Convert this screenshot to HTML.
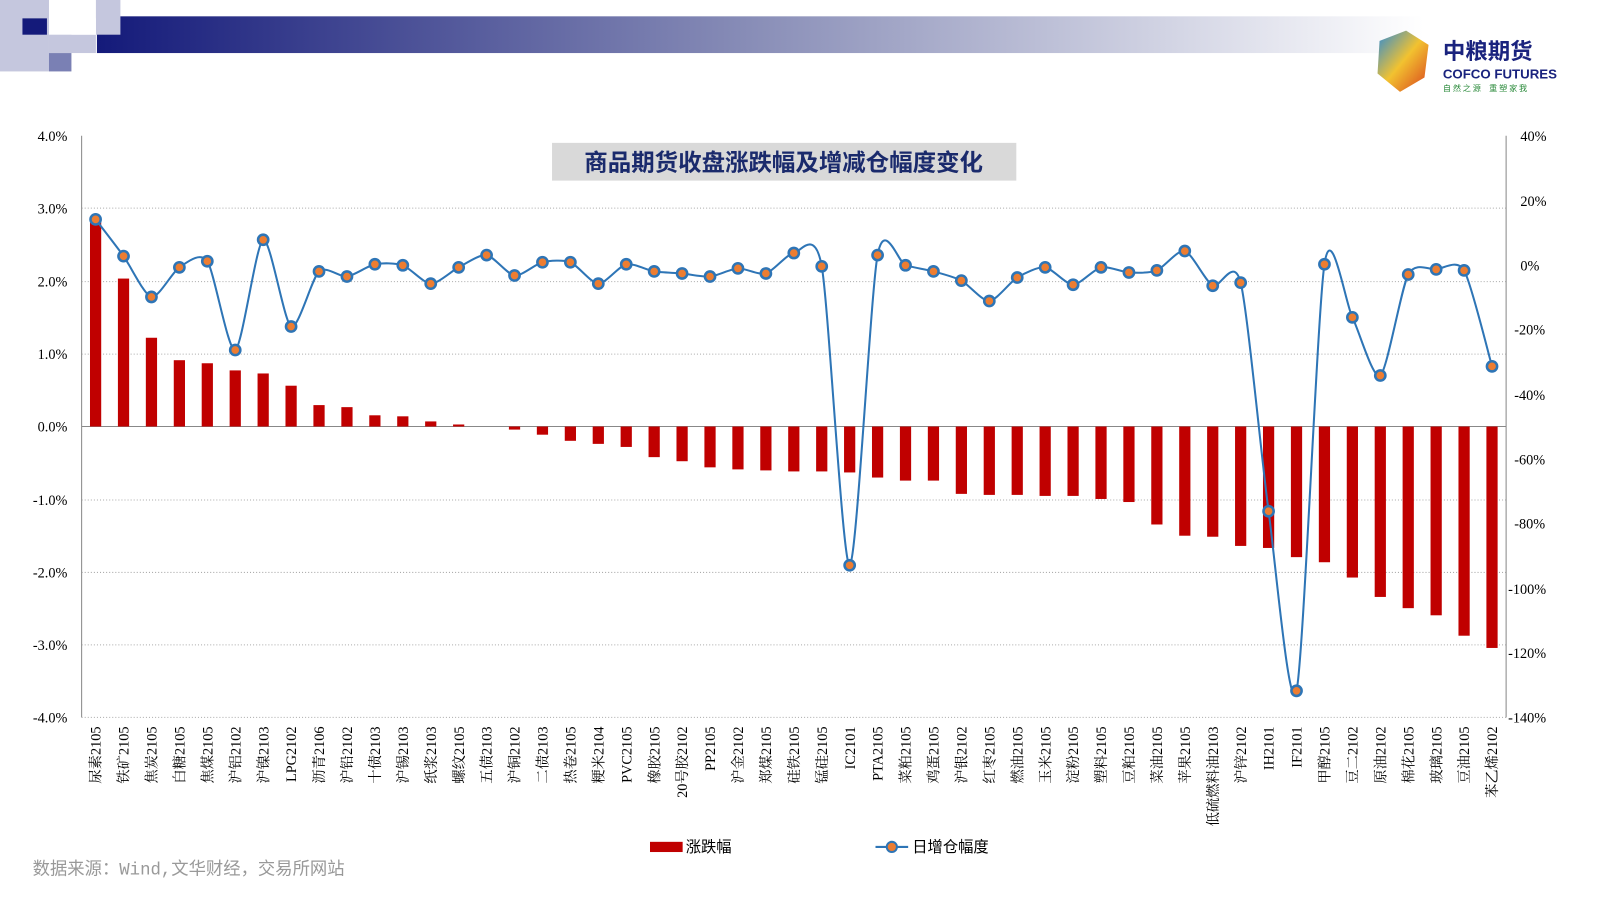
<!DOCTYPE html>
<html><head><meta charset="utf-8"><style>
body{margin:0;width:1600px;height:900px;background:#fff;overflow:hidden;font-family:"Liberation Serif","Noto Serif CJK SC",serif}
</style></head><body>
<svg width="1600" height="900" xmlns="http://www.w3.org/2000/svg">
<defs>
<linearGradient id="hg" x1="0" x2="1"><stop offset="0" stop-color="#141a7a"/><stop offset="0.5" stop-color="#8a8fb8"/><stop offset="1" stop-color="#ffffff"/></linearGradient>
<linearGradient id="lg" x1="0" y1="0" x2="1" y2="1"><stop offset="0" stop-color="#2a8ad8"/><stop offset="0.5" stop-color="#f2c230"/><stop offset="1" stop-color="#d8401c"/></linearGradient>
</defs>
<g transform="scale(1.0204)">
<rect x="95" y="16" width="1300" height="36" fill="url(#hg)"/>
<rect x="0" y="0" width="48" height="70" fill="#c5c7de"/>
<rect x="22" y="18" width="24" height="16" fill="#141a7a"/>
<rect x="48" y="34" width="46" height="18" fill="#c5c7de"/>
<rect x="48" y="52" width="22" height="18" fill="#7a80b4"/>
<rect x="94" y="0" width="24" height="34" fill="#c5c7de"/>
<rect x="70" y="18" width="24" height="16" fill="#fff"/>
<polygon points="1352,40 1378,30 1400,44 1396,76 1372,90 1350,72" fill="url(#lg)"/>
<text x="1414" y="58" font-family="Liberation Sans,Noto Sans CJK SC,sans-serif" font-size="22" font-weight="bold" fill="#1a237e">中粮期货</text>
<text x="1414" y="77" font-family="Liberation Sans,sans-serif" font-size="13" font-weight="bold" fill="#1a237e">COFCO FUTURES</text>
<text x="1414" y="89" font-family="Noto Sans CJK SC,sans-serif" font-size="8" fill="#2a8a3a">自 然 之 源　重 塑 家 我</text>
<g stroke="#aaa" stroke-dasharray="1,2" stroke-width="1">
<line x1="80" y1="204" x2="1476" y2="204"/><line x1="80" y1="276" x2="1476" y2="276"/><line x1="80" y1="347" x2="1476" y2="347"/>
<line x1="80" y1="490" x2="1476" y2="490"/><line x1="80" y1="561" x2="1476" y2="561"/><line x1="80" y1="632" x2="1476" y2="632"/><line x1="80" y1="703" x2="1476" y2="703"/>
</g>
<line x1="80" y1="133" x2="80" y2="703" stroke="#888"/><line x1="1476" y1="133" x2="1476" y2="703" stroke="#888"/>
<line x1="80" y1="418" x2="1476" y2="418" stroke="#888"/>
<g font-size="14" fill="#000" text-anchor="end">
<text x="66" y="138">4.0%</text><text x="66" y="209">3.0%</text><text x="66" y="281">2.0%</text><text x="66" y="352">1.0%</text><text x="66" y="423">0.0%</text><text x="66" y="495">-1.0%</text><text x="66" y="566">-2.0%</text><text x="66" y="637">-3.0%</text><text x="66" y="708">-4.0%</text>
</g>
<g font-size="14" fill="#000">
<text x="1490" y="138">40%</text><text x="1490" y="202">20%</text><text x="1490" y="265">0%</text><text x="1484" y="328">-20%</text><text x="1484" y="392">-40%</text><text x="1484" y="455">-60%</text><text x="1484" y="518">-80%</text><text x="1478" y="582">-100%</text><text x="1478" y="645">-120%</text><text x="1478" y="708">-140%</text>
</g>
<rect x="541" y="140" width="455" height="37" fill="#d9d9d9"/>
<text x="768" y="167" text-anchor="middle" font-family="Liberation Sans,Noto Sans CJK SC,sans-serif" font-size="23" font-weight="bold" fill="#1a2a6c">商品期货收盘涨跌幅及增减仓幅度变化</text>
<g id="bars" fill="#c00000"></g>
<path id="ln" fill="none" stroke="#2e75b6" stroke-width="2"/>
<g id="mk"></g>
<g id="lb" font-size="14" fill="#000"></g>
<rect x="637" y="825" width="32" height="10" fill="#c00000"/>
<text x="672" y="835" font-size="15" font-family="Liberation Sans,Noto Sans CJK SC,sans-serif">涨跌幅</text>
<line x1="858" y1="830" x2="890" y2="830" stroke="#2e75b6" stroke-width="2"/>
<circle cx="874" cy="830" r="5" fill="#ed7d31" stroke="#2e75b6" stroke-width="2"/>
<text x="894" y="835" font-size="15" font-family="Liberation Sans,Noto Sans CJK SC,sans-serif">日增仓幅度</text>
<text x="32" y="857" font-size="17" fill="#999" font-family="Liberation Mono,Noto Sans CJK SC,monospace">数据来源：Wind,文华财经，交易所网站</text>
</g>
</svg>
<script>
var names=["尿素2105","铁矿2105","焦炭2105","白糖2105","焦煤2105","沪铝2102","沪镍2103","LPG2102","沥青2106","沪铅2102","十债2103","沪锡2103","纸浆2103","螺纹2105","五债2103","沪铜2102","二债2103","热卷2105","粳米2104","PVC2105","橡胶2105","20号胶2102","PP2105","沪金2102","郑煤2105","硅铁2105","锰硅2105","IC2101","PTA2105","菜粕2105","鸡蛋2105","沪银2102","红枣2105","燃油2105","玉米2105","淀粉2105","塑料2105","豆粕2105","菜油2105","苹果2105","低硫燃料油2103","沪锌2102","IH2101","IF2101","甲醇2105","豆二2102","原油2102","棉花2105","玻璃2105","豆油2105","苯乙烯2102"];
var bt=[215,273,331,353,356,363,366,378,397,399,407,408,413,416,418,421,426,432,435,438,448,452,458,460,461,462,462,463,468,471,471,484,485,485,486,486,489,492,514,525,526,535,537,546,551,566,585,596,603,623,635];
var ly=[215,251,291,262,256,343,235,320,266,271,259,260,278,262,250,270,257,257,278,259,266,268,271,263,268,248,261,554,250,260,266,275,295,272,262,279,262,267,265,246,280,277,501,677,259,311,368,269,264,265,359];
var ns="http://www.w3.org/2000/svg";
function el(t,a,p){var e=document.createElementNS(ns,t);for(var k in a)e.setAttribute(k,a[k]);document.getElementById(p).appendChild(e);return e;}
var xs=[];for(var i=0;i<51;i++)xs.push(80+27.37*(i+0.5));
for(var i=0;i<51;i++){var y=bt[i];if(y!=418)el("rect",{x:xs[i]-5.5,y:Math.min(y,418),width:11,height:Math.abs(y-418)},"bars");
var t=el("text",{x:0,y:0,transform:"translate("+(xs[i]+5)+",712) rotate(-90)","text-anchor":"end"},"lb");t.textContent=names[i];}
var d="M"+xs[0]+","+ly[0];
for(var i=0;i<50;i++){var p0=i>0?i-1:i,p3=i<49?i+2:i+1;
var c1x=xs[i]+(xs[i+1]-xs[p0])/8,c1y=ly[i]+(ly[i+1]-ly[p0])/8,c2x=xs[i+1]-(xs[p3]-xs[i])/8,c2y=ly[i+1]-(ly[p3]-ly[i])/8;
d+=" C"+c1x+","+c1y+" "+c2x+","+c2y+" "+xs[i+1]+","+ly[i+1];}
document.getElementById("ln").setAttribute("d",d);
for(var i=0;i<51;i++)el("circle",{cx:xs[i],cy:ly[i],r:5,fill:"#ed7d31",stroke:"#2e75b6","stroke-width":2.5},"mk");
</script>
</body></html>
